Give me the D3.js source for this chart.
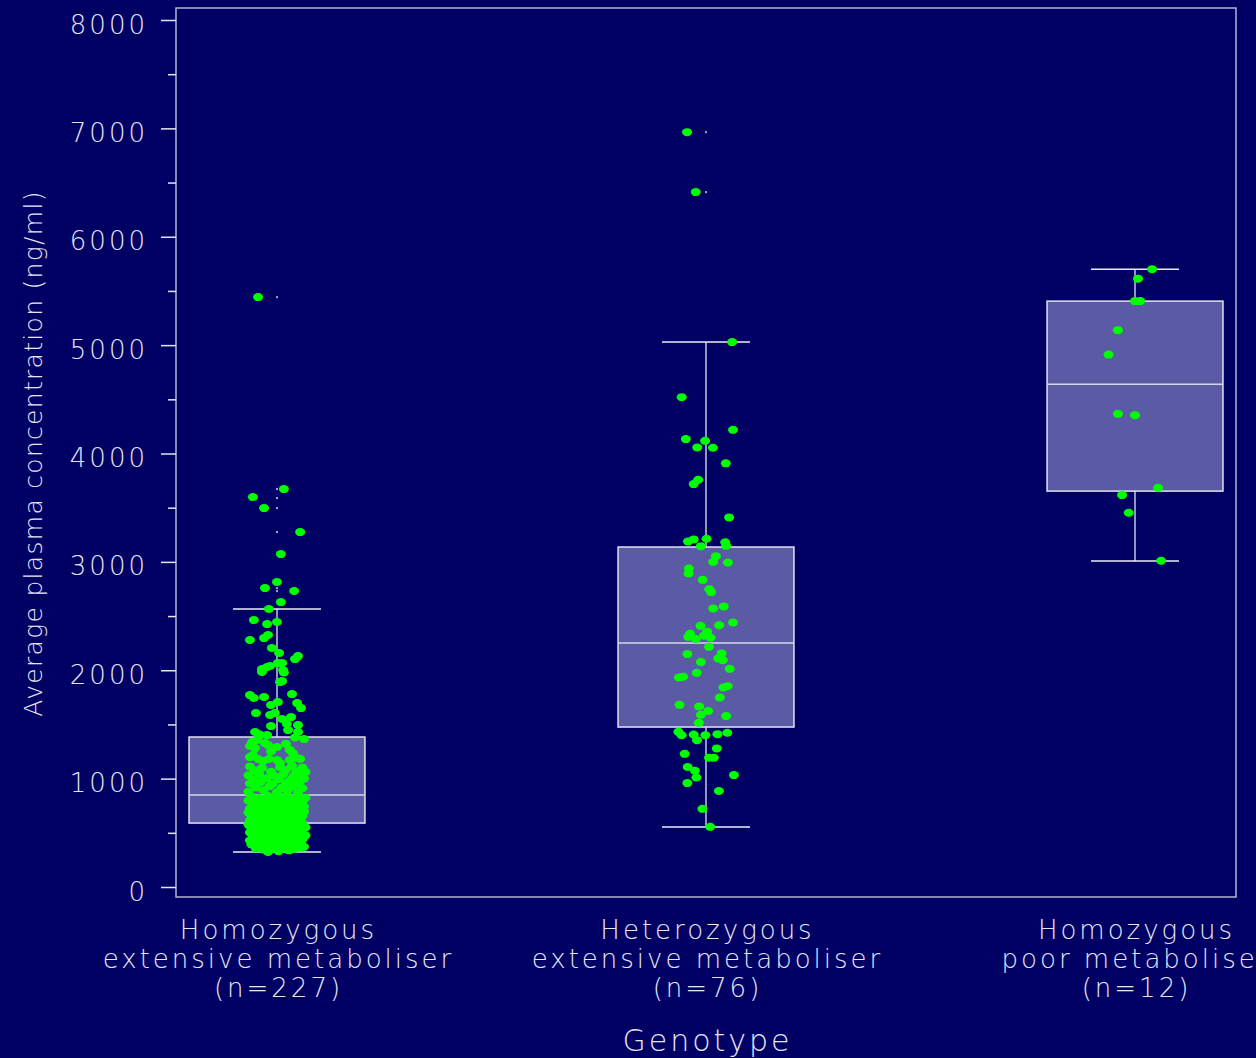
<!DOCTYPE html>
<html>
<head>
<meta charset="utf-8">
<script src="https://cdn.jsdelivr.net/npm/d3@7"></script>
<style>
  body { margin: 0; background: #000064; }
  svg { display: block; }
  text { font-family: "DejaVu Sans", sans-serif; font-weight: 200; fill: #e6e6f2; letter-spacing: 3px; }
</style>
</head>
<body>
<div id="viz-container"></div>
<script>
// categories and labels
let categories = ["hom_em", "het_em", "hom_pm"];
let catLabels = [
  ["Homozygous", "extensive metaboliser", "(n=227)"],
  ["Heterozygous", "extensive metaboliser", "(n=76)"],
  ["Homozygous", "poor metaboliser", "(n=12)"]
];
let yTicks = [0, 1000, 2000, 3000, 4000, 5000, 6000, 7000, 8000];
let yMinorTicks = [500, 1500, 2500, 3500, 4500, 5500, 6500, 7500];

// box statistics
let whiskerLow  = [323, 554, 3007];
let q1          = [590, 1476, 3653];
let median      = [849, 2251, 4640];
let q3          = [1384, 3137, 5406];
let whiskerHigh = [2565, 5028, 5701];
let outliers = [
  [2730, 2758, 3275, 3496, 3589, 3672, 5443],
  [6412, 6965],
  []
];

// individual subjects: [jitter (-1..1), concentration]
let pointsHomEM = [
  [-0.63,5443],[0.23,3672],[-0.8,3598],[-0.43,3496],[0.77,3275],[0.13,3072],
  [0,2814],[-0.4,2758],[0.57,2731],[0.13,2629],[-0.27,2565],
  [-0.77,2463],[-0.33,2426],[0,2445],[-0.9,2279],[-0.43,2297],
  [-0.3,2325],[-0.17,2205],[0.07,2159],[0.6,2103],[0.7,2131],
  [0.17,2066],[0.03,2066],[-0.33,2030],[-0.5,2011],[0.2,2002],
  [-0.5,1984],[-0.23,2039],[0.23,1980],[0.1,1891],[0.17,1900],
  [-0.9,1771],[-0.77,1744],[-0.43,1753],[0.5,1780],[0.03,1707],
  [-0.2,1679],[0.67,1697],[0.8,1651],[-0.7,1605],[-0.23,1587],
  [-0.07,1605],[0.17,1550],[0.47,1568],[-0.2,1485],[0.33,1504],
  [0.37,1448],[0.7,1494],[0.7,1430],[-0.73,1430],[-0.57,1402],
  [-0.33,1402],[0.9,1365],[-0.83,1338],[-0.67,1356],[-0.4,1328],
  [-0.9,1301],[-0.73,1282],[-0.3,1310],[0,1292],[0.43,1264],
  [0.53,1236],[0.67,1190],[0.77,1181],[-0.8,1218],[-0.9,1199],
  [-0.63,1181],[-0.47,1162],[-0.27,1181],[0,1172],[0.1,1144],
  [0.43,1172],[-0.2,1250],[0.3,1320],[0.6,1380],[-0.6,1410],
  [-0.9,1112],[-0.5,1098],[0.1,1105],[0.5,1118],[0.85,1101],
  [-0.75,1075],[-0.2,1064],[0.3,1079],[0.65,1068],[0.95,1060],
  [-0.95,1030],[-0.6,1041],[-0.1,1027],[0.2,1038],[0.55,1022],[0.8,1044],
  [-0.8,990],[-0.35,1003],[0.05,994],[0.45,985],[0.9,1000],
  [-0.9,955],[-0.55,968],[-0.15,950],[0.3,962],[0.6,948],[0.75,972],
  [-0.7,918],[-0.25,930],[0.15,915],[0.5,926],[0.85,911],
  [-0.95,880],[-0.45,893],[0,877],[0.35,889],[0.7,874],
  [-0.85,835],[-0.6,822],[-0.3,840],[-0.05,826],[0.2,833],[0.45,818],[0.7,838],[0.95,824],
  [-0.95,798],[-0.7,786],[-0.4,801],[-0.15,790],[0.1,805],[0.35,782],[0.6,795],[0.85,788],
  [-0.8,760],[-0.55,748],[-0.25,765],[0,752],[0.25,744],[0.5,758],[0.75,768],[0.9,741],
  [-0.9,724],[-0.65,712],[-0.35,727],[-0.1,716],[0.15,730],[0.4,708],[0.65,721],[0.8,734],
  [-0.95,688],[-0.75,676],[-0.5,690],[-0.2,679],[0.05,693],[0.3,671],[0.5,686],[0.7,674],[0.9,695],
  [-0.85,650],[-0.6,638],[-0.3,655],[-0.05,642],[0.2,660],[0.45,635],[0.65,648],[0.85,657],
  [-0.9,613],[-0.7,601],[-0.45,618],[-0.2,605],[0.1,598],[0.3,620],[0.55,610],[0.8,603],
  [-0.95,576],[-0.7,565],[-0.4,580],[-0.15,568],[0.1,583],[0.35,561],[0.6,574],[0.85,587],
  [-0.85,540],[-0.55,528],[-0.3,545],[0,531],[0.2,548],[0.45,524],[0.7,537],[0.95,550],
  [-0.9,503],[-0.65,491],[-0.35,508],[-0.1,495],[0.15,512],[0.4,487],[0.65,500],[0.8,515],
  [-0.8,466],[-0.55,454],[-0.25,470],[0.05,458],[0.3,473],[0.55,450],[0.75,462],[0.95,477],
  [-0.9,430],[-0.6,418],[-0.35,434],[-0.05,421],[0.25,437],[0.45,413],[0.6,426],[0.85,440],
  [-0.85,392],[-0.6,380],[-0.3,396],[0.05,384],[0.3,399],[0.5,376],[0.7,388],[0.9,371],
  [-0.7,356],[-0.45,345],[-0.2,360],[0.15,349],[0.4,338],[0.6,354],[0.85,364],
  [-0.3,323],[0.05,330]
];
let pointsHetEM = [
  [-0.63,6965],[-0.34,6412],[0.87,5028],[-0.81,4520],[0.9,4218],[-0.67,4133],
  [-0.03,4117],[-0.29,4056],[0.23,4053],[0.66,3909],[-0.26,3758],[-0.41,3718],
  [0.77,3410],[-0.6,3189],[-0.41,3207],[0.02,3213],[0.64,3180],[0.67,3148],
  [-0.17,3145],[0.33,3053],[0.24,3000],[0.73,2994],[-0.57,2939],[-0.58,2893],
  [-0.11,2834],[0.11,2748],[0.17,2721],[0.24,2570],[0.59,2589],[0.9,2441],
  [-0.18,2410],[0.44,2416],[0.04,2355],[-0.53,2336],[-0.59,2308],[-0.34,2288],
  [-0.07,2318],[0.1,2216],[-0.62,2149],[0.52,2155],[0.41,2109],[0.56,2093],
  [-0.17,2075],[0.79,2013],[-0.31,1976],[-0.9,1933],[-0.76,1940],[0.58,1841],
  [0.72,1853],[0.46,1749],[-0.88,1681],[-0.23,1666],[0.07,1624],[-0.17,1589],
  [0.67,1577],[-0.24,1515],[-0.92,1432],[-0.81,1401],[-0.41,1407],[-0.3,1355],
  [-0.02,1401],[0.38,1410],[0.71,1423],[0.36,1279],[-0.71,1229],[0.1,1193],
  [0.26,1193],[-0.61,1107],[-0.37,1073],[0.93,1033],[-0.32,1010],[-0.62,959],
  [0.43,886],[-0.12,721],[0.14,555],[0.15,2300]
];
let pointsHomPM = [
  [0.57,5701],[0.1,5613],[0,5406],[0.17,5406],[-0.57,5138],[-0.88,4913],
  [-0.57,4366],[0,4354],[0.77,3683],[-0.43,3616],[-0.21,3453],[0.87,3010]
];
let allPoints = [pointsHomEM, pointsHetEM, pointsHomPM];

let width = 1256, height = 1058;
let frame = {left: 176, right: 1236, top: 8, bottom: 897};

let viz = d3.select("#viz-container")
  .append("svg")
    .attr("width", width)
    .attr("height", height)
  ;

let x = d3.scalePoint()
  .domain(categories)
  .range([frame.left, frame.right])
  .padding(0.2354);
let y = d3.scaleLinear()
  .domain([0, 8000])
  .range([887, 20]);

let boxW = x.step() * 0.41;
let jitterW = x.step() * 0.07;

// frame
viz.append("rect")
  .attr("x", frame.left).attr("y", frame.top)
  .attr("width", frame.right - frame.left).attr("height", frame.bottom - frame.top)
  .attr("fill", "none").attr("stroke", "#b4b4d2").attr("stroke-width", 1.5);

// y axis
let yAxis = viz.append("g")
  .attr("transform", "translate(" + frame.left + ",0)")
  .call(d3.axisLeft(y).tickValues(yTicks).tickSize(15).tickPadding(13).tickFormat(d3.format("d")));
yAxis.select(".domain").remove();
yAxis.selectAll("line").attr("stroke", "#e6e6f2").attr("stroke-width", 1.5);
yAxis.selectAll("text")
  .attr("dy", "0.5em")
  .style("font-size", "26px")
  .attr("fill", "#e6e6f2");
yAxis.attr("font-family", null).attr("font-size", null);

let yMinor = viz.append("g")
  .attr("transform", "translate(" + frame.left + ",0)")
  .call(d3.axisLeft(y).tickValues(yMinorTicks).tickSize(8).tickFormat(""));
yMinor.select(".domain").remove();
yMinor.selectAll("line").attr("stroke", "#e6e6f2").attr("stroke-width", 1.5);

// boxes
let groups = viz.selectAll(".box").data(categories).enter()
  .append("g")
    .attr("class", "box");

groups.append("line")
  .attr("x1", d => x(d)).attr("x2", d => x(d))
  .attr("y1", (d, i) => y(whiskerLow[i]))
  .attr("y2", (d, i) => y(whiskerHigh[i]))
  .attr("stroke", "#c4c4dc").attr("stroke-width", 1.5);

groups.selectAll(".cap")
  .data((d, i) => [whiskerLow[i], whiskerHigh[i]].map(v => ({c: d, v: v})))
  .enter().append("line")
    .attr("class", "cap")
    .attr("x1", p => x(p.c) - boxW / 4).attr("x2", p => x(p.c) + boxW / 4)
    .attr("y1", p => y(p.v)).attr("y2", p => y(p.v))
    .attr("stroke", "#ececf6").attr("stroke-width", 1.5);

groups.append("rect")
  .attr("x", d => x(d) - boxW / 2)
  .attr("y", (d, i) => y(q3[i]))
  .attr("width", boxW)
  .attr("height", (d, i) => y(q1[i]) - y(q3[i]))
  .attr("fill", "#5b5ba5")
  .attr("stroke", "#e2e2f2").attr("stroke-width", 1.5);

groups.append("line")
  .attr("x1", d => x(d) - boxW / 2).attr("x2", d => x(d) + boxW / 2)
  .attr("y1", (d, i) => y(median[i])).attr("y2", (d, i) => y(median[i]))
  .attr("stroke", "#d6d6ea").attr("stroke-width", 1.5);

groups.selectAll(".outlier")
  .data((d, i) => outliers[i].map(v => ({c: d, v: v})))
  .enter().append("rect")
    .attr("class", "outlier")
    .attr("x", p => x(p.c) - 0.75).attr("y", p => y(p.v) - 1)
    .attr("width", 1.5).attr("height", 2)
    .attr("fill", "#dcdcee");

// points
categories.forEach(function(c, i){
  viz.append("g").selectAll("ellipse").data(allPoints[i]).enter()
    .append("ellipse")
      .attr("cx", p => x(c) + p[0] * jitterW)
      .attr("cy", p => y(p[1]))
      .attr("rx", 5).attr("ry", 4)
      .attr("fill", "#00ff00");
});

// category labels
catLabels.forEach(function(lines, i){
  let t = viz.append("text")
    .attr("text-anchor", "middle")
    .style("font-size", "26px");
  lines.forEach(function(line, k){
    t.append("tspan")
      .attr("x", x(categories[i]) + 1.5)
      .attr("y", 939 + k * 29)
      .text(line);
  });
});

// axis titles
viz.append("text")
  .attr("x", 706 + 1.5).attr("y", 1051)
  .attr("text-anchor", "middle")
  .style("font-size", "30px")
  .text("Genotype");

viz.append("text")
  .attr("transform", "translate(42," + (y(0) + y(8000)) / 2 + ") rotate(-90)")
  .attr("text-anchor", "middle")
  .style("font-size", "25px")
  .style("letter-spacing", "1.3px")
  .text("Average plasma concentration (ng/ml)");
</script>
</body>
</html>
